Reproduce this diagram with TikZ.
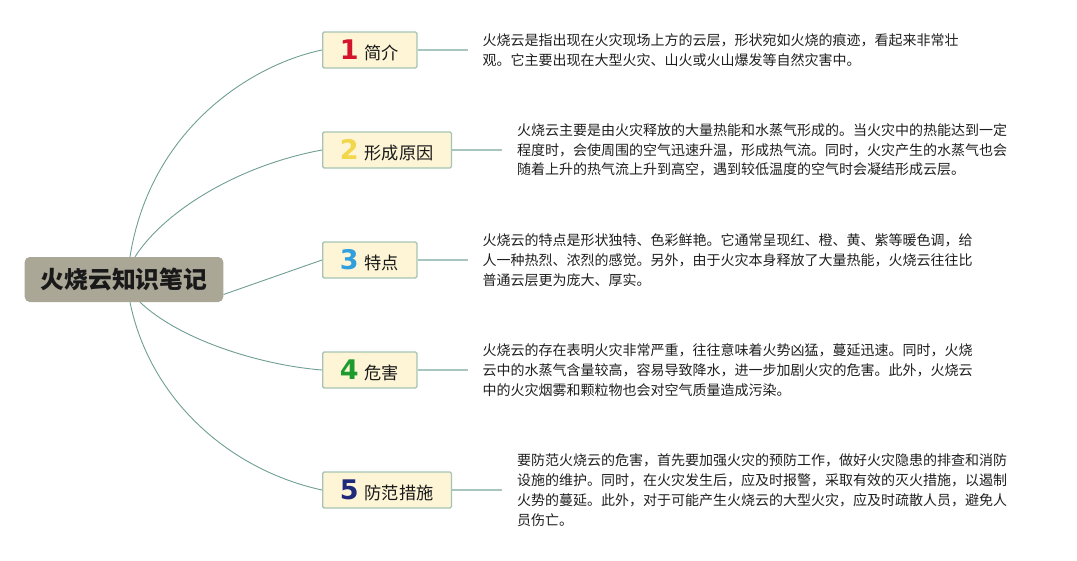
\documentclass[tikz,border=0pt]{standalone}
\usepackage{fontspec}
\setmainfont{Noto Sans CJK SC}
\newfontfamily\numfont{DejaVu Sans}
\usetikzlibrary{positioning}
\usepackage{xcolor}

\definecolor{rootfill}{HTML}{AAA797}
\definecolor{topicfill}{HTML}{FDF5D6}
\definecolor{topicedge}{HTML}{A6C4B3}
\definecolor{branch}{HTML}{6F9E94}
\definecolor{leaf}{HTML}{A9C5C0}
\definecolor{numred}{HTML}{D3142C}
\definecolor{numyellow}{HTML}{F2D64B}
\definecolor{numblue}{HTML}{2F9FDD}
\definecolor{numgreen}{HTML}{1E9B2E}
\definecolor{numnavy}{HTML}{1F2A7A}

\newcommand{\topicnum}[2]{\makebox[17pt][c]{\numfont\bfseries\fontsize{27}{27}\selectfont\textcolor{#1}{#2}}\hspace{7pt}}

\tikzset{
  rootbox/.style={fill=rootfill, rounded corners=5pt, inner xsep=16pt,
    minimum height=45pt, font=\bfseries\fontsize{23.8}{26}\selectfont, text=black!90},
  topic/.style={draw=topicedge, line width=1.3pt, fill=topicfill, rounded corners=1.5pt,
    inner xsep=18pt, inner ysep=0pt, minimum height=36pt, anchor=west,
    font=\fontsize{17.2}{20}\selectfont, text=black!90},
  desc/.style={align=left, inner xsep=15pt, inner ysep=0pt, outer sep=0pt,
    font=\fontsize{14}{19.8}\selectfont, text=black!88},
  branchline/.style={draw=branch, line width=0.9pt},
  leafline/.style={draw=leaf, line width=1.6pt}
}

\begin{document}
\begin{tikzpicture}[x=1pt, y=-1pt]
    \useasboundingbox (0,0) rectangle (1077,560);

    % Root
    \node[rootbox] (root) at (124,279.5) {火烧云知识笔记};

    % Topics
    \node[topic] (t1) at (322,50) {\topicnum{numred}{1}简介};
    \node[topic] (t2) at (322,150) {\topicnum{numyellow}{2}形成原因};
    \node[topic] (t3) at (322,260) {\topicnum{numblue}{3}特点};
    \node[topic] (t4) at (322,370) {\topicnum{numgreen}{4}危害};
    \node[topic] (t5) at (322,490) {\topicnum{numnavy}{5}防范措施};

    % Notes
    \node[desc, right=50pt of t1] (d1) {火烧云是指出现在火灾现场上方的云层，形状宛如火烧的痕迹，看起来非常壮\\
      观。它主要出现在大型火灾、山火或火山爆发等自然灾害中。};
    \node[desc, right=50pt of t2] (d2) {火烧云主要是由火灾释放的大量热能和水蒸气形成的。当火灾中的热能达到一定\\
      程度时，会使周围的空气迅速升温，形成热气流。同时，火灾产生的水蒸气也会\\
      随着上升的热气流上升到高空，遇到较低温度的空气时会凝结形成云层。};
    \node[desc, right=50pt of t3] (d3) {火烧云的特点是形状独特、色彩鲜艳。它通常呈现红、橙、黄、紫等暖色调，给\\
      人一种热烈、浓烈的感觉。另外，由于火灾本身释放了大量热能，火烧云往往比\\
      普通云层更为庞大、厚实。};
    \node[desc, right=50pt of t4] (d4) {火烧云的存在表明火灾非常严重，往往意味着火势凶猛，蔓延迅速。同时，火烧\\
      云中的水蒸气含量较高，容易导致降水，进一步加剧火灾的危害。此外，火烧云\\
      中的火灾烟雾和颗粒物也会对空气质量造成污染。};
    \node[desc, right=50pt of t5] (d5) {要防范火烧云的危害，首先要加强火灾的预防工作，做好火灾隐患的排查和消防\\
      设施的维护。同时，在火灾发生后，应及时报警，采取有效的灭火措施，以遏制\\
      火势的蔓延。此外，对于可能产生火烧云的大型火灾，应及时疏散人员，避免人\\
      员伤亡。};

    % Branches
    \draw[branchline] ([xshift=6pt]root.north) .. controls (150,130) and (250,65) .. (t1.west);
    \draw[branchline] ([xshift=11pt]root.north) .. controls (165,210) and (240,165) .. (t2.west);
    \draw[branchline] ([yshift=-15pt]root.east) -- (t3.west);
    \draw[branchline] ([xshift=16pt]root.south) .. controls (180,340) and (260,365) .. (t4.west);
    \draw[branchline] ([xshift=6pt]root.south) .. controls (150,400) and (230,470) .. (t5.west);

    % Leaves
    \foreach \i in {1,...,5}
      \draw[leafline] (t\i.east) -- (d\i.west);
\end{tikzpicture}
\end{document}
